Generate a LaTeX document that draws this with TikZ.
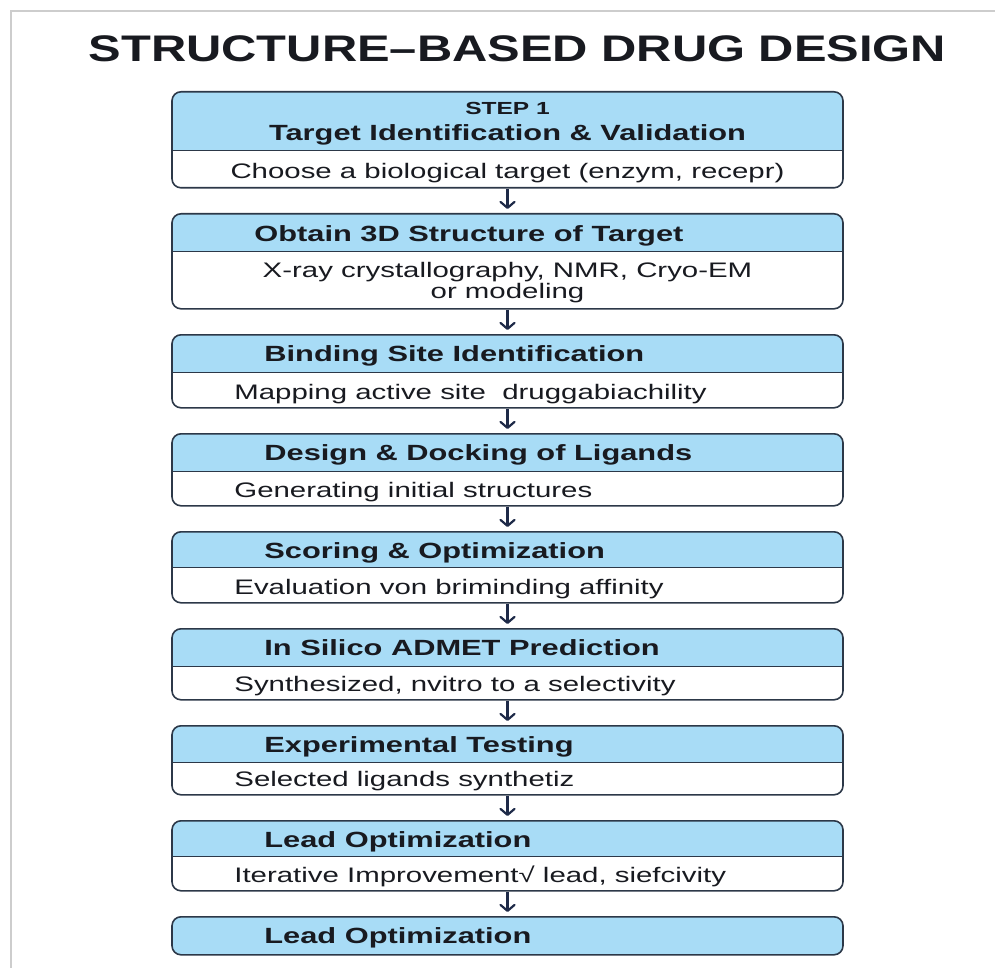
\documentclass[tikz,border=0pt]{standalone}
\usepackage{fontspec}
\setmainfont{Liberation Sans}
\usetikzlibrary{positioning, arrows.meta}

\definecolor{headblue}{RGB}{168,220,246}
\definecolor{boxline}{RGB}{44,56,72}
\definecolor{arrowblue}{RGB}{30,42,72}
\definecolor{inkdark}{RGB}{24,26,32}
\definecolor{framegray}{RGB}{205,205,205}

% the reference lettering is drawn wide
\newcommand{\widetext}[2][1.4]{\scalebox{#1}[1]{#2}}

\begin{document}
\begin{tikzpicture}[x=1pt, y=-1pt, >={Straight Barb[length=6pt,width=14pt,round]}, node distance=24.4pt]
    \tikzset{
        stepbox/.style 2 args={draw=boxline, line width=1.6pt, rounded corners=9pt, fill=white,
            minimum width=671pt, minimum height=#2pt, inner sep=0pt, anchor=north,
            path picture={
                \fill[headblue, sharp corners] (path picture bounding box.north west) rectangle ([yshift=-#1]path picture bounding box.north east);
                \draw[boxline, line width=1.3pt, sharp corners] ([yshift=-#1]path picture bounding box.north west) -- ([yshift=-#1]path picture bounding box.north east);
            }},
        lastbox/.style={draw=boxline, line width=1.6pt, rounded corners=9pt, fill=headblue,
            minimum width=671pt, minimum height=38pt, inner sep=0pt, anchor=north},
        headtext/.style={text=inkdark, inner sep=0pt, font=\fontsize{22}{26}\selectfont\bfseries, anchor=base west},
        bodytext/.style={text=inkdark, inner sep=0pt, font=\fontsize{21}{21}\selectfont, anchor=base west},
        flow/.style={->, draw=arrowblue, line width=2.2pt, shorten >=4pt}
    }
    \useasboundingbox (0,0) rectangle (995,968);
    \draw[framegray, line width=1.5pt] (11,968) -- (11,11) -- (995,11);

    \node[text=inkdark, font=\fontsize{37}{40}\selectfont\bfseries, anchor=base] (title) at (517.5,62) {\widetext[1.32]{STRUCTURE--BASED DRUG DESIGN}};

    \node[stepbox={59pt}{96}] (s1) at (507.5,91) {};
    \node[stepbox={38pt}{95}, below=of s1] (s2) {};
    \node[stepbox={38pt}{73}, below=of s2] (s3) {};
    \node[stepbox={38pt}{72}, below=of s3] (s4) {};
    \node[stepbox={36pt}{71}, below=of s4] (s5) {};
    \node[stepbox={38pt}{71}, below=of s5] (s6) {};
    \node[stepbox={37pt}{69}, below=of s6] (s7) {};
    \node[stepbox={36pt}{70}, below=of s7] (s8) {};
    \node[lastbox, below=of s8] (s9) {};

    % step 1
    \node[headtext, font=\fontsize{17.5}{20}\selectfont\bfseries, anchor=base] (k1) at ([yshift=-24pt]s1.north) {\widetext{STEP 1}};
    \node[headtext, anchor=base] (h1) at ([yshift=-50pt]s1.north) {\widetext{Target Identification \& Validation}};
    \node[bodytext, anchor=base] (d1) at ([yshift=10pt]s1.south) {\widetext{Choose a biological target (enzym, recepr)}};
    % step 2
    \node[headtext] (h2) at ([xshift=83pt, yshift=-28pt]s2.north west) {\widetext{Obtain 3D Structure of Target}};
    \node[bodytext, anchor=base, align=center] (d2) at ([yshift=11pt]s2.south) {\widetext{X-ray crystallography, NMR, Cryo-EM}\\ \widetext{or modeling}};
    % steps 3 to 9
    \node[headtext] (h3) at ([xshift=93pt, yshift=-27pt]s3.north west) {\widetext{Binding Site Identification}};
    \node[bodytext] (d3) at ([xshift=63pt, yshift=9pt]s3.south west) {\widetext{Mapping active site \ druggabiachility}};
    \node[headtext] (h4) at ([xshift=93pt, yshift=-27pt]s4.north west) {\widetext{Design \& Docking of Ligands}};
    \node[bodytext] (d4) at ([xshift=63pt, yshift=9pt]s4.south west) {\widetext{Generating initial structures}};
    \node[headtext] (h5) at ([xshift=93pt, yshift=-27pt]s5.north west) {\widetext{Scoring \& Optimization}};
    \node[bodytext] (d5) at ([xshift=63pt, yshift=9pt]s5.south west) {\widetext{Evaluation von briminding affinity}};
    \node[headtext] (h6) at ([xshift=93pt, yshift=-27pt]s6.north west) {\widetext{In Silico ADMET Prediction}};
    \node[bodytext] (d6) at ([xshift=63pt, yshift=9pt]s6.south west) {\widetext{Synthesized, nvitro to a selectivity}};
    \node[headtext] (h7) at ([xshift=93pt, yshift=-27pt]s7.north west) {\widetext{Experimental Testing}};
    \node[bodytext] (d7) at ([xshift=63pt, yshift=9pt]s7.south west) {\widetext{Selected ligands synthetiz}};
    \node[headtext] (h8) at ([xshift=93pt, yshift=-27pt]s8.north west) {\widetext{Lead Optimization}};
    \node[bodytext] (d8) at ([xshift=63pt, yshift=9pt]s8.south west) {\widetext{Iterative Improvement√ lead, siefcivity}};
    \node[headtext] (h9) at ([xshift=93pt, yshift=-27pt]s9.north west) {\widetext{Lead Optimization}};

    \path[flow]
    (s1) edge (s2)
    (s2) edge (s3)
    (s3) edge (s4)
    (s4) edge (s5)
    (s5) edge (s6)
    (s6) edge (s7)
    (s7) edge (s8)
    (s8) edge (s9);
\end{tikzpicture}
\end{document}
